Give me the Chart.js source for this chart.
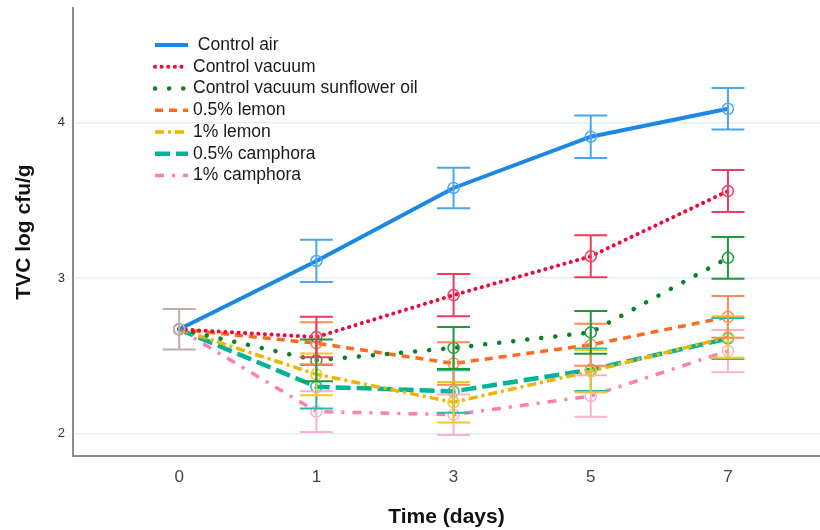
<!DOCTYPE html>
<html>
<head>
<meta charset="utf-8">
<script src="https://cdn.jsdelivr.net/npm/chart.js@4.4.1/dist/chart.umd.min.js"></script>
<style>
html,body{margin:0;padding:0;background:#ffffff;}
#wrap{width:820px;height:530px;}
</style>
</head>
<body>
<div id="wrap"><canvas id="c" width="820" height="530"></canvas></div>
<script>
// ---- data ----
const categories = ['0', '1', '3', '5', '7'];
const yTicks = [2, 3, 4];
const seriesNames = [' Control air', 'Control vacuum', 'Control vacuum sunflower oil', '0.5% lemon', '1% lemon', '0.5% camphora', '1% camphora'];

const controlAir          = [2.67, 3.11, 3.58, 3.91, 4.09];
const controlVacuum       = [2.67, 2.62, 2.89, 3.14, 3.56];
const controlSunflower    = [2.67, 2.47, 2.55, 2.65, 3.13];
const lemon05             = [2.67, 2.58, 2.45, 2.57, 2.75];
const lemon1              = [2.67, 2.38, 2.20, 2.40, 2.62];
const camphora05          = [2.67, 2.30, 2.27, 2.41, 2.61];
const camphora1           = [2.67, 2.14, 2.12, 2.24, 2.53];

const controlAirErr       = [0.13, 0.136, 0.13, 0.137, 0.134];
const controlVacuumErr    = [0.13, 0.13, 0.136, 0.135, 0.135];
const controlSunflowerErr = [0.13, 0.135, 0.135, 0.137, 0.135];
const lemon05Err          = [0.13, 0.135, 0.137, 0.135, 0.134];
const lemon1Err           = [0.13, 0.134, 0.131, 0.135, 0.134];
const camphora05Err       = [0.13, 0.14, 0.137, 0.137, 0.132];
const camphora1Err        = [0.13, 0.131, 0.13, 0.134, 0.136];

const seriesValues = [controlAir, controlVacuum, controlSunflower, lemon05, lemon1, camphora05, camphora1];
const seriesErrors = [controlAirErr, controlVacuumErr, controlSunflowerErr, lemon05Err, lemon1Err, camphora05Err, camphora1Err];

// ---- styles ----
const lineColors  = ['#1a88e4', '#f0083a', '#078228', '#ff6a1c', '#f0b400', '#00b39a', '#ff7fb0'];
const errColors   = ['#4aa6ee', '#f03a60', '#1e9a3c', '#ff8a55', '#f3c62e', '#20bfa8', '#ffb0cf'];
const lineWidths  = [4, 4, 4.5, 3.5, 3.5, 4.5, 3.5];
const lineDashes  = [[], [0.1, 6.5], [0.1, 14], [8, 6], [9, 4, 3, 4], [15, 6], [9, 8, 3, 8]];
const lineCaps    = ['butt', 'round', 'round', 'butt', 'butt', 'butt', 'butt'];
const pooledColor = '#c2aca6';
const FONT = "'Liberation Sans', Arial, Helvetica, sans-serif";

function isPooled(i) {
  return seriesValues.every((s, k) => s[i] === seriesValues[0][i] && seriesErrors[k][i] === seriesErrors[0][i]);
}

const datasets = seriesNames.map((name, k) => ({
  label: name,
  data: seriesValues[k].map((v, i) => ({ x: i, y: v })),
  errors: seriesErrors[k],
  errorColor: errColors[k],
  borderColor: lineColors[k],
  borderWidth: lineWidths[k],
  borderDash: lineDashes[k],
  borderCapStyle: lineCaps[k],
  tension: 0,
  fill: false,
  pointRadius: 5.5,
  pointBorderWidth: 1.5,
  pointBackgroundColor: 'rgba(0,0,0,0)',
  pointBorderColor: categories.map((c, i) => isPooled(i) ? pooledColor : errColors[k])
}));

const errorBarPlugin = {
  id: 'errorBars',
  afterDatasetsDraw(chart, args, opts) {
    const ctx = chart.ctx;
    const ys = chart.scales.y;
    const ds = chart.data.datasets;
    ctx.save();
    ctx.lineWidth = opts.width;
    ctx.lineCap = 'butt';
    ctx.setLineDash([]);
    for (let i = 0; i < categories.length; i++) {
      const pooled = isPooled(i);
      const order = pooled ? [0] : ds.map((d, k) => k).reverse();
      order.forEach(k => {
        const pt = chart.getDatasetMeta(k).data[i];
        const d = ds[k];
        const v = d.data[i].y, e = d.errors[i];
        const top = ys.getPixelForValue(v + e);
        const bot = ys.getPixelForValue(v - e);
        const x = pt.x;
        ctx.strokeStyle = pooled ? opts.pooledColor : d.errorColor;
        ctx.beginPath();
        ctx.moveTo(x, top); ctx.lineTo(x, bot);
        ctx.moveTo(x - opts.cap, top); ctx.lineTo(x + opts.cap, top);
        ctx.moveTo(x - opts.cap, bot); ctx.lineTo(x + opts.cap, bot);
        ctx.stroke();
      });
    }
    ctx.restore();
  }
};

const insideLegend = {
  id: 'insideLegend',
  afterDraw(chart, args, o) {
    const ctx = chart.ctx;
    chart.data.datasets.forEach((d, i) => {
      const y = o.top + i * o.step;
      ctx.save();
      ctx.strokeStyle = d.borderColor;
      ctx.lineWidth = d.borderWidth;
      ctx.setLineDash(d.borderDash || []);
      ctx.lineCap = d.borderCapStyle || 'butt';
      ctx.beginPath();
      ctx.moveTo(o.x0, y); ctx.lineTo(o.x1, y);
      ctx.stroke();
      ctx.setLineDash([]);
      ctx.fillStyle = o.color;
      ctx.font = o.font;
      ctx.textBaseline = 'middle';
      ctx.textAlign = 'left';
      ctx.fillText(d.label, o.textX, y);
      ctx.restore();
    });
  }
};

new Chart(document.getElementById('c'), {
  type: 'line',
  data: { datasets },
  plugins: [errorBarPlugin, insideLegend],
  options: {
    responsive: false,
    animation: false,
    devicePixelRatio: 1,
    layout: { autoPadding: false, padding: { top: 8, right: 0, bottom: 0, left: 0 } },
    plugins: {
      legend: { display: false },
      tooltip: { enabled: false },
      errorBars: { width: 2, cap: 16.5, pooledColor: pooledColor },
      insideLegend: { x0: 155, x1: 188, textX: 193, top: 45, step: 21.75, color: '#1a1a1a', font: "17.5px " + FONT }
    },
    scales: {
      x: {
        type: 'linear',
        min: -0.774,
        max: 4.671,
        afterBuildTicks: s => { s.ticks = categories.map((c, i) => ({ value: i })); },
        afterFit: s => { s.height = 74; s.paddingLeft = 0; s.paddingRight = 0; },
        grid: { display: false, drawTicks: false },
        border: { display: true, color: '#8c8c8c', width: 2 },
        ticks: {
          padding: 11, color: '#444', autoSkip: false, maxRotation: 0,
          font: { family: FONT, size: 17 },
          callback: v => categories[v]
        },
        title: {
          display: true, text: 'Time (days)', color: '#111',
          font: { family: FONT, size: 21, weight: 'bold' },
          padding: { top: 0, bottom: 0 }
        }
      },
      y: {
        type: 'linear',
        min: 1.854,
        max: 4.739,
        afterBuildTicks: s => { s.ticks = yTicks.map(v => ({ value: v })); },
        afterFit: s => { s.width = 73; s.paddingTop = 0; s.paddingBottom = 0; },
        grid: { color: '#e4eefa', lineWidth: 1.5, drawTicks: false },
        border: { display: true, color: '#8c8c8c', width: 2 },
        ticks: { padding: 8, color: '#333', font: { family: FONT, size: 13 } },
        title: {
          display: true, text: 'TVC log cfu/g', color: '#111',
          font: { family: FONT, size: 21, weight: 'bold' },
          padding: { top: 12, bottom: 0 }
        }
      }
    }
  }
});
</script>
</body>
</html>
